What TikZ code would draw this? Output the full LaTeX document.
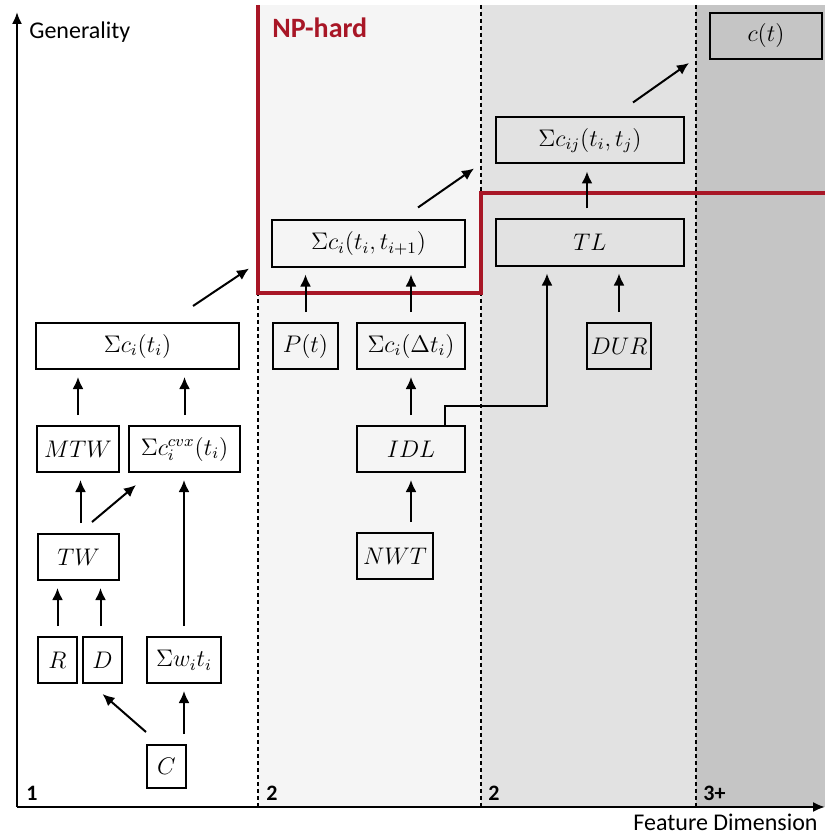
\documentclass[tikz,border=0pt]{standalone}
\usepackage{amsmath}
\usepackage{amssymb}
\usepackage{fontspec}
\newfontfamily\calibri{Carlito}
\usetikzlibrary{arrows.meta,calc}
\definecolor{hardred}{RGB}{168,22,38}
\definecolor{zonetwo}{RGB}{245,245,245}
\definecolor{zonethree}{RGB}{226,226,226}
\definecolor{zonefour}{RGB}{197,197,197}

\begin{document}
\begin{tikzpicture}[x=0.5pt, y=-0.5pt,
    box/.style={draw, line width=1pt, inner sep=0pt, minimum height=23pt, font=\large},
    arr/.style={-{Latex[length=6pt,width=5.5pt]}, line width=1pt, shorten >=3.5pt, shorten <=5pt},
    divider/.style={line width=0.8pt, dash pattern=on 2pt off 1.5pt},
    zonelabel/.style={inner sep=0pt, anchor=base west, font=\calibri\bfseries\fontsize{11}{13}\selectfont}]
    \useasboundingbox (0,0) rectangle (825,834);
    % shaded zones
    \fill[zonetwo] (258,5) rectangle (481,807);
    \fill[zonethree] (481,5) rectangle (696,807);
    \fill[zonefour] (696,5) rectangle (825,807);
    \draw[divider] (258,5) -- (258,807);
    \draw[divider] (481,5) -- (481,807);
    \draw[divider] (696,5) -- (696,807);
    % NP-hard border
    \draw[hardred, line width=1.8pt] (258,5) -- (258,293) -- (481,293) -- (481,193) -- (825,193);
    \node[inner sep=0pt, anchor=base west, text=hardred, font=\calibri\bfseries\fontsize{14}{16}\selectfont] (nphard) at (272,38) {NP-hard};
    % axes
    \draw[line width=1pt, -{Latex[length=6pt,width=5pt]}] (17,807) -- (17,12);
    \draw[line width=1pt, -{Latex[length=6pt,width=5pt]}] (17,807) -- (825,807);
    \node[inner sep=0pt, anchor=base west, font=\calibri\fontsize{12}{14}\selectfont] (ylabel) at (29,39) {Generality};
    \node[inner sep=0pt, anchor=base east, font=\calibri\fontsize{12}{14}\selectfont] (xlabel) at (818,830) {Feature Dimension};
    \node[zonelabel] (zone1) at (26,800) {1};
    \node[zonelabel] (zone2) at (266,800) {2};
    \node[zonelabel] (zone3) at (488,800) {2};
    \node[zonelabel] (zone4) at (703,800) {3+};
    % problem boxes
    \node[box, minimum width=101.5pt] (sumci) at (137.5,346) {$\Sigma c_i(t_i)$};
    \node[box, minimum width=41pt] (mtw) at (78,449) {$MTW$};
    \node[box, minimum width=55.5pt] (cvx) at (184.5,449) {$\Sigma c_i^{cvx}(t_i)$};
    \node[box, minimum width=40.5pt] (tw) at (78.5,557) {$TW$};
    \node[box, minimum width=19.5pt] (r) at (57.5,660) {$R$};
    \node[box, minimum width=19.5pt] (d) at (102.5,660) {$D$};
    \node[box, minimum width=37pt] (sumw) at (184,660) {$\Sigma w_i t_i$};
    \node[box, minimum width=19.5pt, minimum height=21.5pt] (c) at (166.5,766.5) {$C$};
    \node[box, minimum width=96.5pt] (sumcii) at (368.5,243.5) {$\Sigma c_i(t_i,t_{i+1})$};
    \node[box, minimum width=32.5pt] (pt) at (305.5,346) {$P(t)$};
    \node[box, minimum width=54pt] (sumcdt) at (411,346) {$\Sigma c_i(\Delta t_i)$};
    \node[box, minimum width=54pt] (idl) at (411,449) {$IDL$};
    \node[box, minimum width=38pt] (nwt) at (395,556) {$NWT$};
    \node[box, minimum width=94pt] (sumcij) at (590,140.5) {$\Sigma c_{ij}(t_i,t_j)$};
    \node[box, minimum width=94pt] (tl) at (590,242.5) {$TL$};
    \node[box, minimum width=32pt] (dur) at (619,346) {$DUR$};
    \node[box, minimum width=56pt] (ct) at (766,36) {$c(t)$};
    % reductions
    \draw[arr] (mtw.north) -- (mtw.north |- sumci.south);
    \draw[arr] (cvx.north) -- (cvx.north |- sumci.south);
    \draw[arr] ([xshift=1pt]tw.north) -- ([xshift=1pt]tw.north |- mtw.south);
    \draw[arr, shorten <=0pt, shorten >=0pt] ($(tw.north)+(13.5,-11)$) -- ($(cvx.south west)+(8,12)$);
    \draw[arr] (sumw.north) -- (sumw.north |- cvx.south);
    \draw[arr] (r.north) -- (r.north |- tw.south);
    \draw[arr] ([xshift=-1pt]d.north) -- ([xshift=-1pt]d.north |- tw.south);
    \draw[arr, shorten <=0pt, shorten >=0pt] ($(c.north west)+(0,-12)$) -- ($(d.south)+(0,10)$);
    \draw[arr] (sumw.south |- c.north) -- (sumw.south);
    \draw[arr, shorten <=0pt, shorten >=0pt] ($(sumci.north)+(55.5,-16)$) -- ($(sumcii.south west)+(-22,1)$);
    \draw[arr] (pt.north) -- (pt.north |- sumcii.south);
    \draw[arr] (sumcdt.north) -- (sumcdt.north |- sumcii.south);
    \draw[arr] (idl.north) -- (sumcdt.south);
    \draw[arr] (idl.south |- nwt.north) -- (idl.south);
    \draw[arr, shorten <=0pt] ($(idl.north)+(34,0)$) -- ++(0,-19) -| ($(tl.south)+(-43,0)$);
    \draw[arr] (dur.north) -- (dur.north |- tl.south);
    \draw[arr] ([xshift=-1.5pt]tl.north) -- ([xshift=-1.5pt]sumcij.south);
    \draw[arr, shorten <=0pt, shorten >=0pt] ($(sumcii.north)+(49.5,-12)$) -- ($(sumcij.south west)+(-21,4)$);
    \draw[arr, shorten <=0pt, shorten >=0pt] ($(sumcij.north)+(43,-14)$) -- ($(ct.south west)+(-20,3)$);
\end{tikzpicture}
\end{document}
